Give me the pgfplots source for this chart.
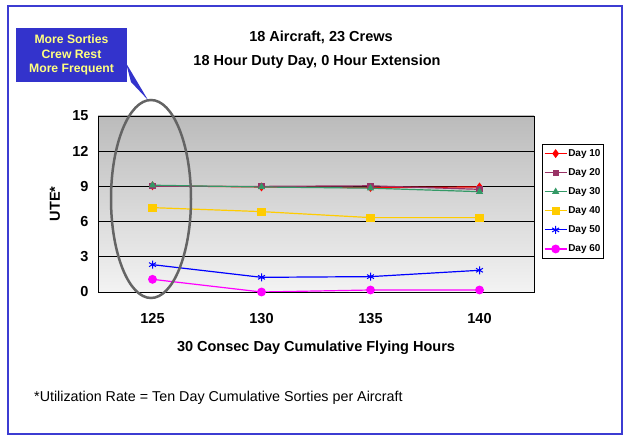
\documentclass[border=0pt]{standalone}
\usepackage{pgfplots}
\pgfplotsset{compat=1.18}
\usepackage{fontspec}
\setmainfont{Liberation Sans}
\definecolor{frameblue}{RGB}{60,60,210}
\definecolor{calloutblue}{RGB}{51,51,204}
\definecolor{calloutyellow}{RGB}{255,255,128}
\definecolor{bgtop}{RGB}{187,187,187}
\definecolor{bgbot}{RGB}{243,243,243}
\definecolor{cD20}{RGB}{153,51,102}
\definecolor{cD30}{RGB}{51,153,102}
\definecolor{cD40}{RGB}{255,204,0}
\definecolor{cD50}{RGB}{0,0,255}
\definecolor{cD60}{RGB}{255,0,255}
\definecolor{ellgray}{RGB}{100,100,100}
\begin{document}
\begin{tikzpicture}[x=1bp,y=1bp]
\path[use as bounding box] (0,0) rectangle (624,437);
\fill[white] (0,0) rectangle (624,437);
\draw[frameblue, line width=2bp] (8,3) rectangle (622,431);
\begin{axis}[
  at={(98bp,145bp)}, anchor=south west,
  scale only axis, width=436bp, height=176bp,
  xmin=0.5, xmax=4.5, ymin=0, ymax=15,
  xtick={1,2,3,4}, xticklabels={125,130,135,140},
  ytick={0,3,6,9,12,15},
  /pgf/number format/assume math mode=true,
  tick label style={font=\fontsize{14.5bp}{16bp}\selectfont\bfseries},
  xticklabel style={anchor=center, yshift=-26.5bp},
  yticklabel style={anchor=east, xshift=-6bp},
  x tick style={draw=none},
  y tick style={draw=none},
  extra x ticks={0.5,1.5,2.5,3.5,4.5},
  extra x tick labels={},
  extra x tick style={tick align=outside, major tick length=5bp, tick style={draw=black, line width=0.8bp}, grid=none},
  ymajorgrids, grid style={black, line width=0.7bp},
  axis line style={black, line width=0.8bp},
  axis background/.style={top color=bgtop, bottom color=bgbot},
  xlabel={30 Consec Day Cumulative Flying Hours},
  xlabel style={at={(axis description cs:0.5,-0.318)}, anchor=center, font=\fontsize{14.5bp}{16bp}\selectfont\bfseries},
  ylabel={UTE*},
  ylabel style={at={(axis description cs:-0.0986,0.5)}, anchor=center, font=\fontsize{14.5bp}{16bp}\selectfont\bfseries},
  legend style={at={(1.018,0.84)}, anchor=north west, draw=black, fill=white,
    font=\fontsize{10bp}{11bp}\selectfont\bfseries, inner xsep=2bp, inner ysep=4bp,
    row sep=8.6bp, nodes={inner sep=1bp}},
  legend cell align=left,
  legend image code/.code={\draw[mark repeat=2,mark phase=2] plot coordinates {(0bp,0bp) (11bp,0bp) (22bp,0bp)};},
  every axis plot/.append style={line width=1.2bp},
]
\addplot[color=red, mark=diamond*, mark size=3.5bp] coordinates {(1,9.05) (2,8.95) (3,8.9) (4,8.95)};
\addlegendentry{Day 10}
\addplot[color=cD20, mark=square*, mark size=2.5bp] coordinates {(1,9.0) (2,9.0) (3,9.05) (4,8.75)};
\addlegendentry{Day 20}
\addplot[color=cD30, mark=triangle*, mark size=3bp] coordinates {(1,9.1) (2,8.95) (3,8.85) (4,8.55)};
\addlegendentry{Day 30}
\addplot[color=cD40, mark=square*, mark size=3.5bp] coordinates {(1,7.19) (2,6.85) (3,6.34) (4,6.34)};
\addlegendentry{Day 40}
\addplot[color=cD50, mark=asterisk, mark size=4bp, mark options={line width=1bp}] coordinates {(1,2.33) (2,1.25) (3,1.31) (4,1.85)};
\addlegendentry{Day 50}
\addplot[color=cD60, mark=*, mark size=3.8bp] coordinates {(1,1.08) (2,0.0) (3,0.17) (4,0.17)};
\addlegendentry{Day 60}
\end{axis}
\draw[ellgray, line width=2.5bp] (151,238) ellipse [x radius=40, y radius=99];
\fill[calloutblue] (16,355) rectangle (127,409);
\fill[calloutblue] (126,374) -- (148,337) -- (131,355) -- cycle;
\node[align=center, text=calloutyellow, font=\fontsize{12.2bp}{14.5bp}\selectfont\bfseries] at (71.5,382) {More Sorties\\Crew Rest\\More Frequent};
\node[font=\fontsize{14.5bp}{16bp}\selectfont\bfseries] at (321,400) {18 Aircraft, 23 Crews};
\node[font=\fontsize{14.5bp}{16bp}\selectfont\bfseries] at (317,375) {18 Hour Duty Day, 0 Hour Extension};
\node[anchor=west, inner sep=0pt, font=\fontsize{14.3bp}{16bp}\selectfont] at (34,39) {*Utilization Rate = Ten Day Cumulative Sorties per Aircraft};
\end{tikzpicture}
\end{document}
